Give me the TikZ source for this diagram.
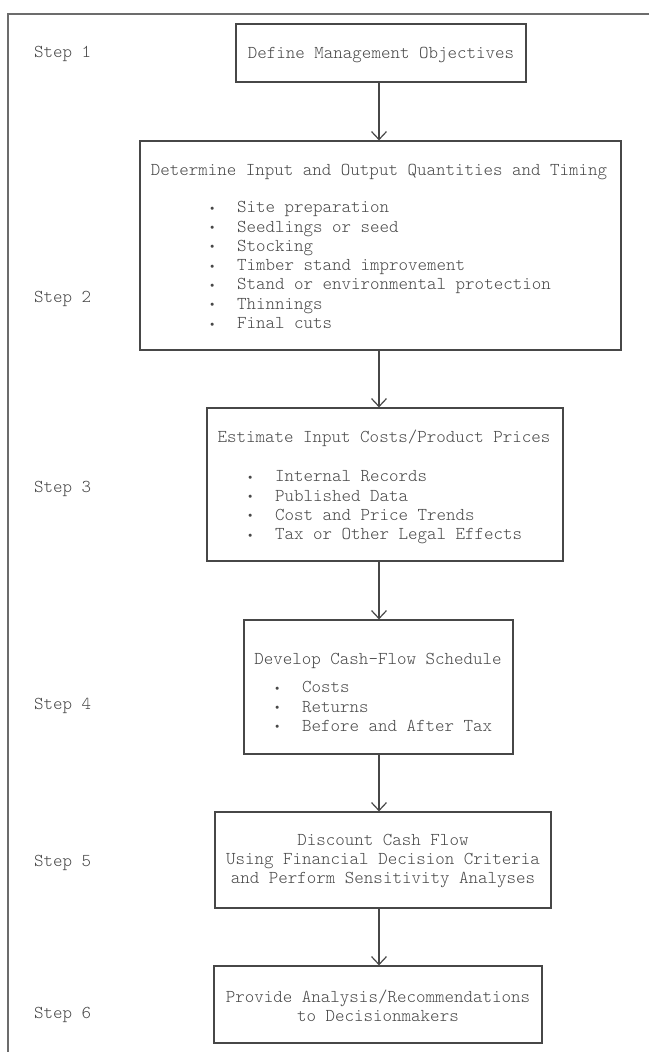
\documentclass[tikz,border=0pt]{standalone}
\usepackage{fontspec}
\newfontfamily\typewr{lmmonolt10-regular.otf}
\usetikzlibrary{arrows.meta}
\definecolor{ink}{gray}{0.28}
\newcommand{\bul}{\strut\makebox[30pt][l]{\kern2pt\raisebox{1.5pt}{\fontsize{12pt}{12pt}\selectfont\textbullet}}}
\tikzset{
  stepbox/.style={draw=ink, line width=1.2pt, inner sep=0pt},
  steptext/.style={text=ink, inner sep=0pt, align=center,
    font=\typewr\fontsize{18.1pt}{19.3pt}\selectfont},
  itemlist/.style={steptext, align=left, anchor=north west},
  steplabel/.style={steptext, anchor=base west},
  flow/.style={draw=ink, line width=1.2pt, -{Straight Barb[length=8pt,width=15pt]}}
}
\begin{document}
\begin{tikzpicture}[x=1pt,y=-1pt]
        \useasboundingbox (0,0) rectangle (649,1052);
        \draw[ink!80, line width=1.2pt] (649,14) -- (8,14) -- (8,1052); % frame
        \coordinate (axis) at (379,0);

        \node[stepbox, minimum width=290pt, minimum height=58pt] (box1) at (381,53) {};
        \node[stepbox, minimum width=481pt, minimum height=209pt] (box2) at (380.5,245.5) {};
        \node[stepbox, minimum width=356pt, minimum height=153pt] (box3) at (385,484.5) {};
        \node[stepbox, minimum width=269pt, minimum height=134pt] (box4) at (378.5,687) {};
        \node[stepbox, minimum width=336pt, minimum height=96pt] (box5) at (383,860) {};
        \node[stepbox, minimum width=328pt, minimum height=77pt] (box6) at (378,1004.5) {};

        \node[steptext, anchor=base] (title1) at (381,58.5) {Define Management Objectives};
        \node[steptext, anchor=base] (title2) at (379,175.5) {Determine Input and Output Quantities and Timing};
        \node[itemlist] (items2) at (207,199) {\bul Site preparation\\ \bul Seedlings or seed\\ \bul Stocking\\
          \bul Timber stand improvement\\ \bul Stand or environmental protection\\ \bul Thinnings\\ \bul Final cuts};
        \node[steptext, anchor=base] (title3) at (384,442.5) {Estimate Input Costs/Product Prices};
        \node[itemlist] (items3) at (245,468) {\bul Internal Records\\ \bul Published Data\\
          \bul Cost and Price Trends\\ \bul Tax or Other Legal Effects};
        \node[steptext, anchor=base] (title4) at (378,664.5) {Develop Cash-Flow Schedule};
        \node[itemlist] (items4) at (272,679) {\bul Costs\\ \bul Returns\\ \bul Before and After Tax};
        \node[steptext] (title5) at (383,861) {Discount Cash Flow\\ Using Financial Decision Criteria\\ and Perform Sensitivity Analyses};
        \node[steptext] (title6) at (378,1005.5) {Provide Analysis/Recommendations\\ to Decisionmakers};

        \node[steplabel] (step1) at (34,57.5) {Step 1};
        \node[steplabel] (step2) at (34,302.5) {Step 2};
        \node[steplabel] (step3) at (34,492.5) {Step 3};
        \node[steplabel] (step4) at (34,709.5) {Step 4};
        \node[steplabel] (step5) at (34,866.5) {Step 5};
        \node[steplabel] (step6) at (34,1018.5) {Step 6};

        \draw[flow] (axis |- box1.south) -- (axis |- box2.north);
        \draw[flow] (axis |- box2.south) -- (axis |- box3.north);
        \draw[flow] (axis |- box3.south) -- (axis |- box4.north);
        \draw[flow] (axis |- box4.south) -- (axis |- box5.north);
        \draw[flow] (axis |- box5.south) -- (axis |- box6.north);
    \end{tikzpicture}
\end{document}
